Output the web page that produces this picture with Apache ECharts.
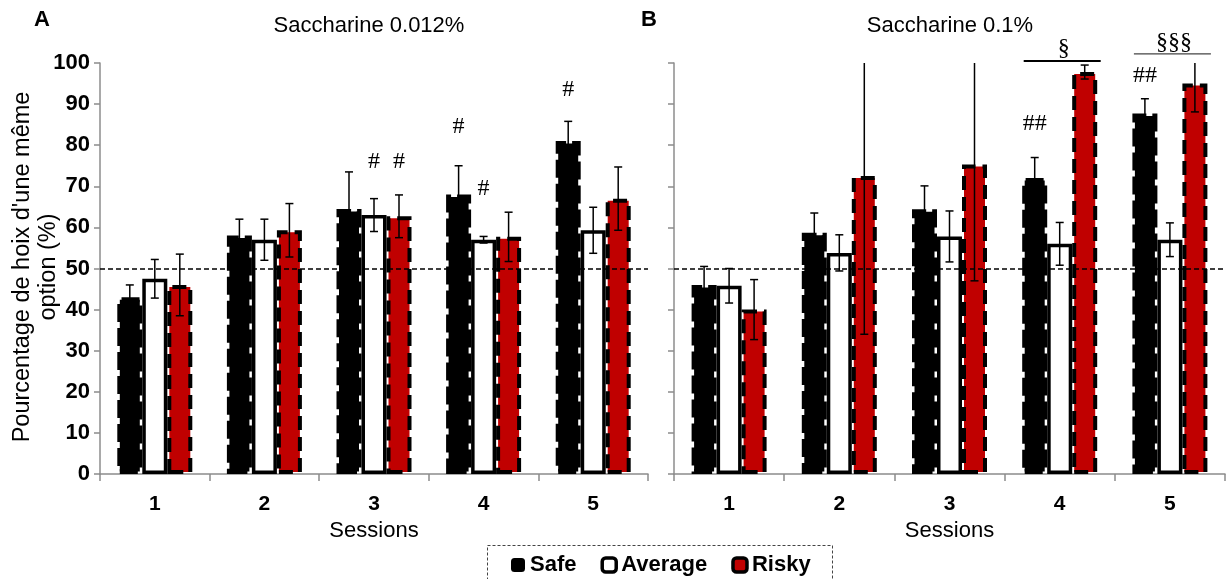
<!DOCTYPE html>
<html><head><meta charset="utf-8">
<script src="https://cdn.jsdelivr.net/npm/echarts@6/dist/echarts.min.js"></script>
<style>html,body{margin:0;padding:0;background:#fff}#c{width:1227px;height:579px}</style>
</head><body><div id="c"></div>
<script>
const sessions = ['1', '2', '3', '4', '5'];
const yTicks = [0, 100, 10]; // min, max, interval
// Panel A : Saccharine 0.012%
const safeA = [43, 58, 64.5, 68, 81];
const safeAErr = [3, 4, 9, 7, 4.8];
const avgA = [47.5, 57, 63, 57, 59.3];
const avgAErr = [4.7, 5, 4, 0.8, 5.6];
const riskyA = [46, 59.3, 62.7, 57.7, 67];
const riskyAErr = [7.5, 6.5, 5.2, 6, 7.7];
// Panel B : Saccharine 0.1%
const safeB = [46, 58.7, 64.4, 72, 87.7];
const safeBErr = [4.5, 4.8, 5.7, 5, 3.6];
const avgB = [45.8, 53.8, 57.8, 56, 57];
const avgBErr = [4.2, 4.4, 6.2, 5.2, 4.1];
const riskyB = [40, 72.5, 75.3, 97.8, 95];
const riskyBErr = [7.3, 38.5, 28.3, 1.7, 6.9];
const chance = 50;
// annotations: [session index, bar index (0 safe,1 average,2 risky), value, text]
const marksA = [[2, 1, 76, '#'], [2, 2, 76, '#'], [3, 0, 84.4, '#'], [3, 1, 69.3, '#'], [4, 0, 93.6, '#']];
const marksB = [[3, 0, 85.2, '##'], [4, 0, 96.8, '##']];
// significance bars: [session index, line value, text value, text]
const sigB = [[3, 100.5, 103.6, '§'], [4, 102.2, 104.9, '§§§']];

const FONT = "'Liberation Sans', Arial, sans-serif";
const BW = 25, GAPF = 0.0, OFF = BW * (1 + GAPF);

const chart = echarts.init(document.getElementById('c'), null, {renderer: 'canvas'});

function barSeries(name, data, ax, style, z) {
  return {type: 'bar', name, data, xAxisIndex: ax, yAxisIndex: ax, barWidth: BW, barGap: (GAPF * 100) + '%',
    itemStyle: style, z: z, animation: false};
}
const safeStyle = {color: '#000', borderColor: '#000', borderWidth: 5, borderType: [18, 6]};
const avgStyle = {color: '#fff', borderColor: '#000', borderWidth: 3.5};
const riskyStyle = {color: '#C00000', borderColor: '#000', borderWidth: 4, borderType: [14, 7]};

function errData(groups) {
  const out = [];
  groups.forEach((g, s) => g[0].forEach((v, i) => out.push([i, v, g[1][i], s])));
  return out;
}
function errSeries(ax, data) {
  return {type: 'custom', xAxisIndex: ax, yAxisIndex: ax, data, z: 5, clip: true, animation: false,
    renderItem(params, api) {
      const i = api.value(0), m = api.value(1), e = api.value(2), s = api.value(3);
      const c = api.coord([i, m]);
      const hi = api.coord([i, m + e]), lo = api.coord([i, m - e]);
      const x = c[0] + (s - 1) * OFF, w = 4;
      const st = {stroke: '#000', lineWidth: 1.5};
      return {type: 'group', children: [
        {type: 'line', shape: {x1: x, y1: hi[1], x2: x, y2: lo[1]}, style: st},
        {type: 'line', shape: {x1: x - w, y1: hi[1], x2: x + w, y2: hi[1]}, style: st},
        {type: 'line', shape: {x1: x - w, y1: lo[1], x2: x + w, y2: lo[1]}, style: st}
      ]};
    }};
}
function markSeries(ax, data) {
  return {type: 'custom', xAxisIndex: ax, yAxisIndex: ax, data, z: 6, clip: false, animation: false,
    renderItem(params, api) {
      const c = api.coord([api.value(0), api.value(2)]);
      return {type: 'text', x: c[0] + (api.value(1) - 1) * OFF, y: c[1],
        style: {text: data[params.dataIndex][3], font: "24px 'Liberation Serif', serif", fill: '#000',
          align: 'center', verticalAlign: 'middle'}};
    }};
}
function sigSeries(ax, data) {
  return {type: 'custom', xAxisIndex: ax, yAxisIndex: ax, data, z: 6, clip: false, animation: false,
    renderItem(params, api) {
      const i = api.value(0);
      const l = api.coord([i, api.value(1)]), t = api.coord([i, api.value(2)]);
      const thin = data[params.dataIndex][3].length > 1;
      return {type: 'group', children: [
        {type: 'line', shape: {x1: l[0] - 36, y1: l[1], x2: l[0] + 41, y2: l[1]},
          style: {stroke: thin ? '#444' : '#000', lineWidth: thin ? 1.2 : 2}},
        {type: 'text', x: t[0] + 4, y: t[1], style: {text: data[params.dataIndex][3],
          font: "24px 'Liberation Serif', serif", fill: '#000', align: 'center', verticalAlign: 'middle'}}
      ]};
    }};
}
function refSeries(ax) {
  return {type: 'line', xAxisIndex: ax, yAxisIndex: ax, data: [], z: 8, animation: false,
    markLine: {silent: true, symbol: 'none', label: {show: false}, animation: false,
      lineStyle: {color: '#000', type: [5, 3], width: 1.5}, data: [{yAxis: chance}]}};
}

const axisLineStyle = {lineStyle: {color: '#8c8c8c', width: 1.5}};
function xAxis(gi) {
  return {type: 'category', gridIndex: gi, data: sessions, boundaryGap: true,
    axisLine: axisLineStyle, axisTick: {show: true, length: 7, lineStyle: {color: '#8c8c8c', width: 1.5}},
    axisLabel: {fontFamily: FONT, fontWeight: 'bold', fontSize: 21, color: '#000', margin: 20},
    name: 'Sessions', nameLocation: 'middle', nameGap: 33,
    nameTextStyle: {fontFamily: FONT, fontSize: 22, color: '#000'}};
}
function yAxis(gi, labels) {
  return {type: 'value', gridIndex: gi, min: yTicks[0], max: yTicks[1], interval: yTicks[2],
    splitLine: {show: false}, axisLine: {show: true, ...axisLineStyle},
    axisTick: {show: true, length: 6, lineStyle: {color: '#8c8c8c', width: 1.5}},
    axisLabel: {show: labels, fontFamily: FONT, fontWeight: 'bold', fontSize: 22, color: '#000', margin: 10}};
}

chart.setOption({
  animation: false,
  grid: [
    {left: 100, top: 63, width: 548, height: 411},
    {left: 674, top: 63, width: 551, height: 411}
  ],
  xAxis: [xAxis(0), xAxis(1)],
  yAxis: [yAxis(0, true), yAxis(1, false)],
  legend: {left: 506, top: 549, itemWidth: 14, itemHeight: 14, itemGap: 24, selectedMode: false,
    textStyle: {fontFamily: FONT, fontWeight: 'bold', fontSize: 22, color: '#000'},
    data: [
      {name: 'Safe', icon: 'roundRect', itemStyle: {color: '#000', borderWidth: 0}},
      {name: 'Average', icon: 'roundRect', itemStyle: {color: '#fff', borderColor: '#000', borderWidth: 3.5}},
      {name: 'Risky', icon: 'roundRect', itemStyle: {color: '#C00000', borderColor: '#000', borderWidth: 3.5}}
    ]},
  graphic: [
    {type: 'rect', shape: {x: 487.5, y: 545.5, width: 345, height: 40},
      style: {fill: 'none', stroke: '#444', lineWidth: 1, lineDash: [3, 2]}},
    {type: 'text', x: 42, y: 20, style: {text: 'A', font: "bold 22px " + FONT, fill: '#000', align: 'center', verticalAlign: 'middle'}},
    {type: 'text', x: 649, y: 20, style: {text: 'B', font: "bold 22px " + FONT, fill: '#000', align: 'center', verticalAlign: 'middle'}},
    {type: 'text', x: 369, y: 26, style: {text: 'Saccharine 0.012%', font: "22px " + FONT, fill: '#000', align: 'center', verticalAlign: 'middle'}},
    {type: 'text', x: 950, y: 26, style: {text: 'Saccharine 0.1%', font: "22px " + FONT, fill: '#000', align: 'center', verticalAlign: 'middle'}},
    {type: 'text', x: 36, y: 267, rotation: Math.PI / 2,
      style: {text: "Pourcentage de hoix d'une même\noption (%)", font: "23.5px " + FONT, lineHeight: 26,
        fill: '#000', align: 'center', verticalAlign: 'middle'}}
  ],
  series: [
    barSeries('Safe', safeA, 0, safeStyle, 3),
    barSeries('Average', avgA, 0, avgStyle, 2),
    barSeries('Risky', riskyA, 0, riskyStyle, 3),
    barSeries('Safe', safeB, 1, safeStyle, 3),
    barSeries('Average', avgB, 1, avgStyle, 2),
    barSeries('Risky', riskyB, 1, riskyStyle, 3),
    errSeries(0, errData([[safeA, safeAErr], [avgA, avgAErr], [riskyA, riskyAErr]])),
    errSeries(1, errData([[safeB, safeBErr], [avgB, avgBErr], [riskyB, riskyBErr]])),
    refSeries(0), refSeries(1),
    markSeries(0, marksA), markSeries(1, marksB), sigSeries(1, sigB)
  ]
});
</script></body></html>
